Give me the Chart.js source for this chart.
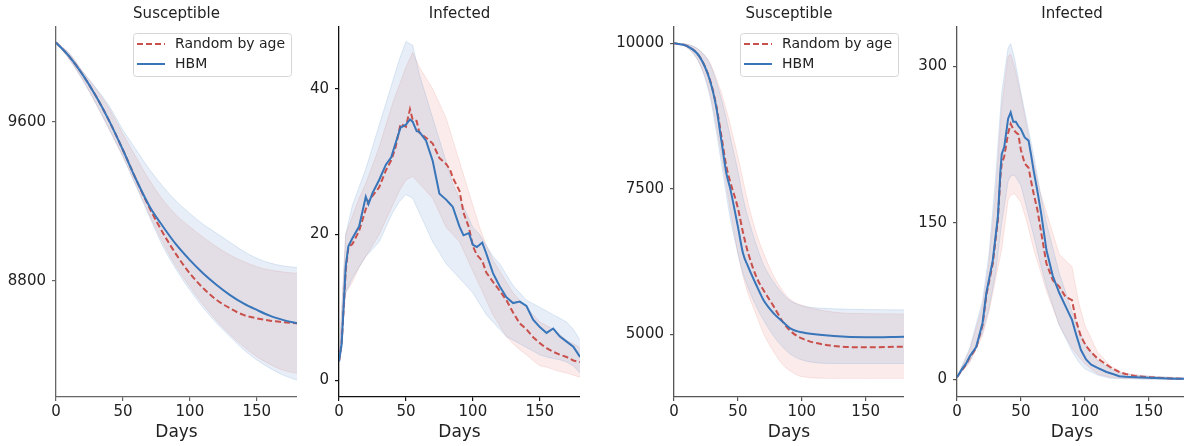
<!DOCTYPE html>
<html>
<head>
<meta charset="utf-8">
<script src="https://cdn.jsdelivr.net/npm/chart.js@4.4.1/dist/chart.umd.min.js"></script>
<style>
    html, body { margin: 0; padding: 0; background: #fff; overflow: hidden; }
    #wrap { position: relative; width: 1184px; height: 446px; overflow: hidden; }
    #wrap canvas { position: absolute; top: 0; }
</style>
</head>
<body>
<div id="wrap">
    <canvas id="c1" width="297" height="446" style="left:0px"></canvas>
    <canvas id="c2" width="283" height="446" style="left:297px"></canvas>
    <canvas id="c3" width="324" height="446" style="left:580px"></canvas>
    <canvas id="c4" width="283" height="446" style="left:904px"></canvas>
</div>
<script>
    // ---- panel 1: Susceptible (left pair)
    var s1Days = [0, 10, 20, 30, 40, 50, 60, 70, 80, 90, 100, 110, 120, 130, 140, 150, 160, 170, 180];
    var s1Hbm = [10000, 9929, 9837, 9728, 9602, 9459, 9308, 9174, 9073, 8981, 8905, 8838, 8780, 8729, 8687, 8654, 8624, 8603, 8587];
    var s1HbmHi = [10000, 9945, 9853, 9770, 9677, 9560, 9459, 9360, 9274, 9200, 9140, 9085, 9040, 8995, 8950, 8914, 8890, 8875, 8868];
    var s1HbmLo = [10000, 9915, 9811, 9690, 9560, 9425, 9274, 9120, 8972, 8855, 8754, 8665, 8587, 8520, 8455, 8402, 8360, 8325, 8301];
    var s1Rand = [10000, 9929, 9837, 9728, 9602, 9459, 9308, 9165, 9040, 8931, 8838, 8763, 8704, 8662, 8629, 8612, 8600, 8592, 8587];
    var s1RandHi = [10000, 9945, 9853, 9765, 9665, 9540, 9420, 9305, 9207, 9130, 9073, 9020, 8972, 8930, 8898, 8872, 8855, 8845, 8838];
    var s1RandLo = [10000, 9915, 9811, 9690, 9560, 9425, 9280, 9130, 8990, 8870, 8771, 8680, 8600, 8530, 8470, 8419, 8380, 8350, 8335];
    var s1Ticks = [8800, 9600];

    // ---- panel 2: Infected (left pair)
    var i1Days = [0, 2, 5, 7, 10, 15, 20, 22, 25, 30, 35, 39, 42, 46, 50, 53, 55, 58, 60, 65, 70, 75, 80, 83, 85, 90, 93, 97, 100, 103, 107, 110, 115, 120, 125, 130, 135, 140, 145, 150, 155, 160, 165, 170, 175, 180];
    var i1Hbm = [2.6, 5.0, 15.6, 18.4, 19.5, 21.1, 25.2, 24.2, 25.7, 27.5, 29.6, 30.6, 32.4, 34.7, 35.1, 35.8, 35.5, 34.2, 34.1, 32.9, 30.1, 25.6, 24.8, 24.2, 23.8, 21.1, 19.9, 20.2, 18.6, 18.3, 18.9, 17.4, 14.7, 12.9, 11.4, 10.6, 10.8, 10.2, 8.3, 7.3, 6.5, 7.1, 6.0, 5.3, 4.6, 3.2];
    var i1Rand = [2.6, 5.0, 15.0, 18.3, 18.7, 20.5, 23.5, 24.5, 25.3, 26.5, 28.8, 30.2, 31.8, 35.2, 34.8, 37.2, 35.8, 35.6, 34.0, 33.3, 32.5, 30.5, 29.7, 28.9, 27.8, 26.0, 23.0, 21.0, 18.4, 17.2, 16.4, 14.8, 13.5, 12.3, 11.0, 9.3, 7.8, 7.0, 5.9, 5.1, 4.4, 3.9, 3.5, 3.2, 2.7, 2.5];
    var i1BandDays = [0, 5, 10, 15, 20, 25, 30, 35, 40, 45, 50, 55, 60, 65, 70, 75, 80, 85, 90, 95, 100, 105, 110, 115, 120, 125, 130, 135, 140, 145, 150, 155, 160, 165, 170, 175, 180];
    var i1HbmHi = [2.6, 20, 24, 26.5, 29, 32, 35, 38, 41, 44, 46.5, 46, 42, 39, 36, 33, 30, 27, 25, 23, 21, 20, 18.5, 17, 16, 14.5, 13, 12, 11, 10.5, 10, 9.5, 9, 8.5, 8, 7, 5.5];
    var i1HbmLo = [2.6, 12, 14, 15.5, 17, 18, 19, 21, 23, 24.5, 25.5, 25, 23, 21, 19, 17.5, 16, 15, 14, 13, 12, 10.5, 9, 8, 7, 6, 5.5, 5, 4.5, 4, 3.5, 3.2, 3, 2.8, 2.5, 2, 1.0];
    var i1RandHi = [2.6, 20, 22.5, 25, 27, 29.5, 32, 35, 38, 40.5, 43, 45, 43, 41.5, 40, 38, 36, 33, 30, 27, 24, 21, 18.5, 16.5, 15, 13.5, 12, 11, 10, 9, 8, 7.5, 7, 6.3, 5.5, 5, 4.5];
    var i1RandLo = [2.6, 12, 13.5, 15.5, 17, 18.5, 20, 22, 24, 26, 27.5, 28, 27, 26, 25, 23, 21, 20, 19, 17, 15, 13, 11, 9, 7.5, 6, 5, 4.2, 3.5, 2.7, 2.0, 1.8, 1.5, 1.2, 1.0, 0.7, 0.4];
    var i1Ticks = [0, 20, 40];

    // ---- panel 3: Susceptible (right pair)
    var s2Days = [0, 10, 20, 28, 33, 37, 41, 44, 50, 54, 58, 65, 70, 78, 85, 91, 100, 125, 150, 180];
    var s2Hbm = [10000, 9954, 9771, 9370, 8911, 8339, 7766, 7503, 6850, 6392, 6163, 5819, 5590, 5361, 5218, 5103, 5034, 4971, 4948, 4960];
    var s2HbmHi = [10000, 9985, 9880, 9650, 9350, 9050, 8700, 8400, 7800, 7350, 7000, 6500, 6200, 5900, 5700, 5580, 5490, 5440, 5425, 5420];
    var s2HbmLo = [10000, 9930, 9650, 9100, 8500, 7950, 7400, 7000, 6392, 6050, 5800, 5450, 5246, 4970, 4780, 4660, 4560, 4500, 4500, 4500];
    var s2Rand = [10000, 9954, 9771, 9380, 8940, 8420, 7880, 7620, 7170, 6750, 6400, 5960, 5760, 5480, 5218, 5060, 4930, 4800, 4777, 4788];
    var s2RandHi = [10000, 9985, 9880, 9670, 9400, 9150, 8850, 8600, 8050, 7650, 7250, 6700, 6400, 6000, 5750, 5600, 5500, 5380, 5355, 5350];
    var s2RandLo = [10000, 9930, 9650, 9150, 8600, 8100, 7550, 7150, 6400, 6000, 5700, 5300, 5017, 4700, 4480, 4370, 4273, 4244, 4244, 4244];
    var s2Ticks = [5000, 7500, 10000];

    // ---- panel 4: Infected (right pair)
    var i2Days = [0, 4, 7, 10, 15, 20, 23, 28, 32, 34, 35, 37, 40, 42, 44, 46, 48, 50, 53, 56, 58, 60, 63, 66, 70, 75, 80, 85, 90, 93, 97, 101, 105, 110, 117, 122, 127, 132, 140, 150, 160, 170, 180];
    var i2Hbm = [2, 10, 15, 22, 31, 54, 83, 114, 156, 200, 216, 223, 250, 256, 247, 247, 243, 240, 232, 229, 215, 200, 180, 158, 124, 99, 83, 70, 57, 44, 28, 19, 14, 11, 7, 5, 3, 2.5, 2, 1.5, 1, 0.6, 0.4];
    var i2Rand = [2, 9, 14, 21, 30, 52, 81, 111, 153, 195, 207, 214, 236, 245, 240, 237, 235, 220, 207, 203, 190, 178, 162, 140, 111, 95, 89, 79, 76, 57, 41, 32, 26, 20, 14, 10, 7, 5, 3, 2, 1.2, 0.8, 0.5];
    var i2BandDays = [0, 10, 20, 25, 30, 35, 40, 42, 45, 50, 55, 60, 65, 70, 80, 90, 95, 100, 110, 120, 130, 150, 180];
    var i2HbmHi = [2, 30, 75, 120, 190, 275, 318, 322, 308, 275, 245, 215, 180, 150, 102, 65, 48, 35, 18, 10, 5, 3, 1];
    var i2HbmLo = [2, 17, 45, 68, 100, 150, 190, 195, 196, 186, 162, 138, 112, 89, 52, 27, 17, 10, 4, 1, 0.5, 0, 0];
    var i2RandHi = [2, 28, 70, 112, 175, 262, 310, 312, 300, 272, 240, 208, 180, 160, 120, 108, 75, 52, 26, 13, 6, 3, 1];
    var i2RandLo = [2, 16, 42, 65, 95, 125, 172, 177, 178, 170, 150, 125, 105, 85, 52, 30, 22, 15, 5, 2, 1, 0.5, 0];
    var i2Ticks = [0, 150, 300];

    var dayTicks = [0, 50, 100, 150];
    var legendLabels = ['Random by age', 'HBM'];

    var RED = '#c9504b';
    var BLUE = '#3875b9';
    var FONT = 'DejaVu Sans';

    function pts(days, vals) {
        return days.map(function (d, i) {
            return { x: d, y: vals[i] };
        });
    }

    // framed legend drawn in the upper right corner of the plot
    var boxLegend = {
        id: 'boxLegend',
        afterDraw: function (chart, args, opts) {
            if (!opts.show) {
                return;
            }
            var ctx = chart.ctx;
            var area = chart.chartArea;
            var w = 158, h = 43;
            var left = area.right - 6 - w;
            var top = area.top + 6;

            ctx.save();
            ctx.fillStyle = 'rgba(255,255,255,0.85)';
            ctx.strokeStyle = '#d6d6d6';
            ctx.lineWidth = 1;
            ctx.beginPath();
            ctx.roundRect(left + 0.5, top + 0.5, w, h, 3);
            ctx.fill();
            ctx.stroke();

            var rows = [
                { text: legendLabels[0], color: RED, dash: [6, 3] },
                { text: legendLabels[1], color: BLUE, dash: [] }
            ];
            ctx.font = '14px "' + FONT + '"';
            ctx.textBaseline = 'middle';
            rows.forEach(function (row, i) {
                var y = top + 11 + i * 20;
                ctx.strokeStyle = row.color;
                ctx.lineWidth = 2;
                ctx.setLineDash(row.dash);
                ctx.beginPath();
                ctx.moveTo(left + 4, y);
                ctx.lineTo(left + 32, y);
                ctx.stroke();
                ctx.setLineDash([]);
                ctx.fillStyle = '#222';
                ctx.fillText(row.text, left + 42, y);
            });
            ctx.restore();
        }
    };

    function meanSet(label, data, color, dashed, smooth) {
        return {
            label: label,
            data: data,
            borderColor: color,
            borderWidth: 2,
            borderDash: dashed ? [6, 3] : [],
            pointRadius: 0,
            fill: false,
            tension: smooth ? 0.4 : 0,
            cubicInterpolationMode: smooth ? 'monotone' : 'default'
        };
    }

    function bandSets(hi, lo, fillColor, edgeColor, smooth) {
        var common = {
            borderColor: edgeColor,
            borderWidth: 1,
            pointRadius: 0,
            tension: smooth ? 0.4 : 0,
            cubicInterpolationMode: smooth ? 'monotone' : 'default'
        };
        return [
            Object.assign({ data: hi, fill: '+1', backgroundColor: fillColor }, common),
            Object.assign({ data: lo, fill: false }, common)
        ];
    }

    function makePanel(id, p) {
        var spine = p.spine;
        // first dataset is drawn last, so HBM sits on top of the dashed line
        var datasets = [
            meanSet(legendLabels[1], pts(p.days, p.hbm), BLUE, false, p.smooth),
            meanSet(legendLabels[0], pts(p.days, p.rand), RED, true, p.smooth)
        ]
            .concat(bandSets(pts(p.bandDays, p.hbmHi), pts(p.bandDays, p.hbmLo),
                'rgba(84,138,200,0.14)', 'rgba(84,138,200,0.18)', p.smooth))
            .concat(bandSets(pts(p.bandDays, p.randHi), pts(p.bandDays, p.randLo),
                'rgba(222,112,100,0.13)', 'rgba(222,112,100,0.16)', p.smooth));

        return new Chart(document.getElementById(id), {
            type: 'line',
            data: { datasets: datasets },
            plugins: [boxLegend],
            options: {
                responsive: false,
                animation: false,
                devicePixelRatio: 1,
                layout: { padding: 0 },
                plugins: {
                    legend: { display: false },
                    tooltip: { enabled: false },
                    title: {
                        display: true,
                        text: p.title,
                        fullSize: false,
                        color: '#222',
                        font: { family: FONT, size: 15, weight: 'normal' },
                        padding: { top: 5, bottom: 4 }
                    },
                    boxLegend: { show: p.legend }
                },
                scales: {
                    x: {
                        type: 'linear',
                        min: 0,
                        max: 180,
                        afterBuildTicks: function (scale) {
                            scale.ticks = dayTicks.map(function (v) { return { value: v }; });
                        },
                        afterFit: function (scale) {
                            scale.height = 49;
                        },
                        grid: { drawOnChartArea: false, drawTicks: true, tickLength: 4, color: spine, lineWidth: 1.2 },
                        border: { color: spine, width: 1.3 },
                        ticks: { color: '#222', padding: 2, maxRotation: 0, font: { family: FONT, size: 15 } },
                        title: {
                            display: true,
                            text: 'Days',
                            color: '#222',
                            font: { family: FONT, size: 17 },
                            padding: { top: 0, bottom: 3 }
                        }
                    },
                    y: {
                        min: p.yMin,
                        max: p.yMax,
                        afterBuildTicks: function (scale) {
                            scale.ticks = p.yTicks.map(function (v) { return { value: v }; });
                        },
                        afterFit: function (scale) {
                            scale.width = p.yWidth;
                        },
                        grid: { drawOnChartArea: false, drawTicks: true, tickLength: 4, color: spine, lineWidth: 1.2 },
                        border: { color: spine, width: 1.3 },
                        ticks: {
                            color: '#222',
                            padding: 6,
                            font: { family: FONT, size: 15 },
                            callback: function (v) { return String(v); }
                        }
                    }
                }
            }
        });
    }

    makePanel('c1', {
        title: 'Susceptible', legend: true, smooth: true, spine: '#666',
        days: s1Days, hbm: s1Hbm, rand: s1Rand,
        bandDays: s1Days, hbmHi: s1HbmHi, hbmLo: s1HbmLo, randHi: s1RandHi, randLo: s1RandLo,
        yMin: 8216, yMax: 10078, yTicks: s1Ticks, yWidth: 56
    });

    makePanel('c2', {
        title: 'Infected', legend: false, smooth: false, spine: '#111',
        days: i1Days, hbm: i1Hbm, rand: i1Rand,
        bandDays: i1BandDays, hbmHi: i1HbmHi, hbmLo: i1HbmLo, randHi: i1RandHi, randLo: i1RandLo,
        yMin: -2.3, yMax: 48.5, yTicks: i1Ticks, yWidth: 42
    });

    makePanel('c3', {
        title: 'Susceptible', legend: true, smooth: true, spine: '#555',
        days: s2Days, hbm: s2Hbm, rand: s2Rand,
        bandDays: s2Days, hbmHi: s2HbmHi, hbmLo: s2HbmLo, randHi: s2RandHi, randLo: s2RandLo,
        yMin: 3923, yMax: 10280, yTicks: s2Ticks, yWidth: 94
    });

    makePanel('c4', {
        title: 'Infected', legend: false, smooth: false, spine: '#555',
        days: i2Days, hbm: i2Hbm, rand: i2Rand,
        bandDays: i2BandDays, hbmHi: i2HbmHi, hbmLo: i2HbmLo, randHi: i2RandHi, randLo: i2RandLo,
        yMin: -17, yMax: 338, yTicks: i2Ticks, yWidth: 53
    });
</script>
</body>
</html>
